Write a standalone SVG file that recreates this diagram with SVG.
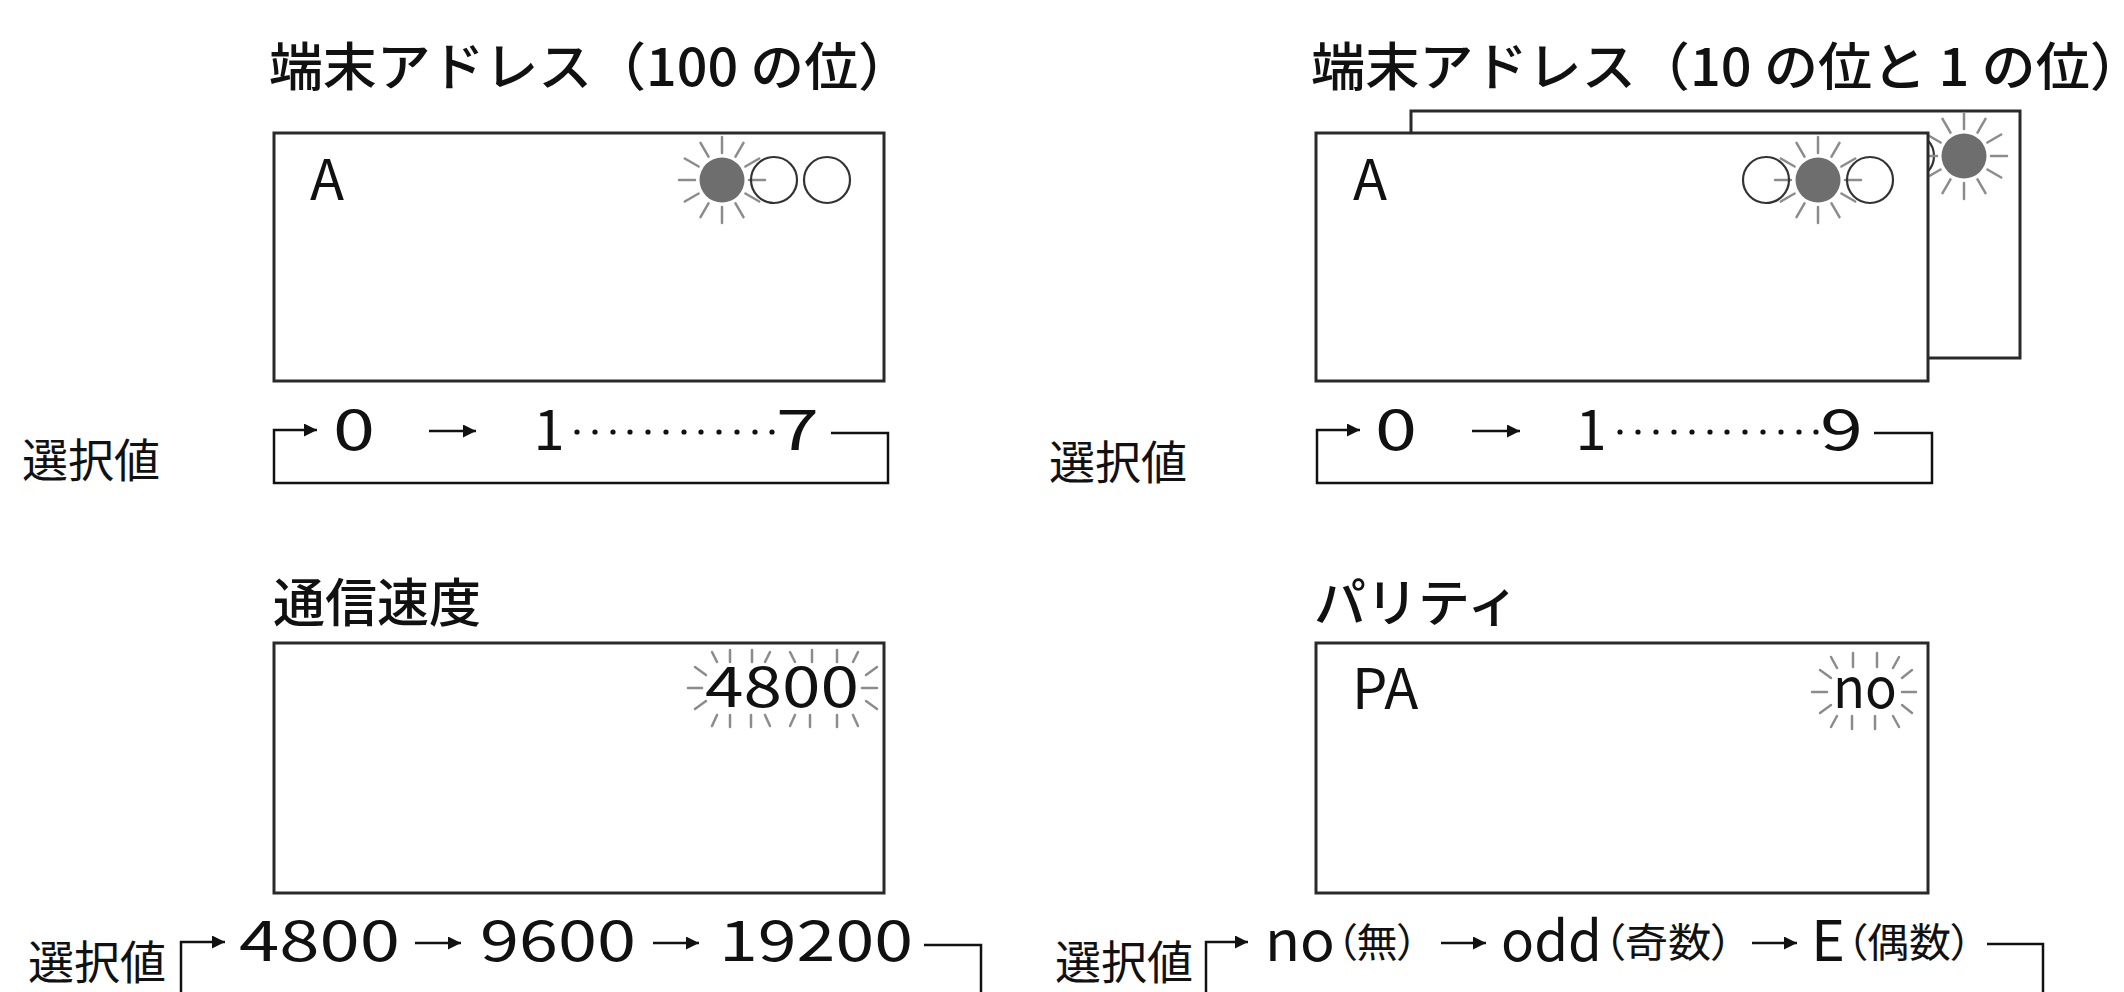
<svg xmlns="http://www.w3.org/2000/svg" width="2124" height="992" viewBox="0 0 2124 992">
<style>
.title{font-family:"Noto Sans CJK JP","Noto Sans",sans-serif;font-size:52px;font-weight:500;fill:#111}
.lab{font-family:"Noto Sans CJK JP","Noto Sans",sans-serif;font-size:56px;fill:#111}
.sel{font-family:"Noto Sans CJK JP","Noto Sans",sans-serif;font-size:46px;fill:#111}
.par{font-size:40px;font-feature-settings:"palt" 1}
.box{fill:#fff;stroke:#2a2a2a;stroke-width:3}
.led{fill:#6e6e6e}
.off{fill:none;stroke:#333;stroke-width:2.2}
.ray{stroke:#8c8c8c;stroke-width:2.5;stroke-linecap:round}
.ln{fill:none;stroke:#111;stroke-width:2.5}
.dot{fill:#111}
</style>
<defs>
<marker id="ah" markerUnits="userSpaceOnUse" viewBox="0 0 12 12" refX="12" refY="6" markerWidth="13" markerHeight="13" orient="auto">
<path d="M0,0 L12,6 L0,12 z" fill="#111"/>
</marker>
<g id="burst">
<line class="ray" x1="0" y1="-27" x2="0" y2="-43"/>
<line class="ray" x1="0" y1="-27" x2="0" y2="-43" transform="rotate(30)"/>
<line class="ray" x1="0" y1="-27" x2="0" y2="-43" transform="rotate(60)"/>
<line class="ray" x1="0" y1="-27" x2="0" y2="-43" transform="rotate(90)"/>
<line class="ray" x1="0" y1="-27" x2="0" y2="-43" transform="rotate(120)"/>
<line class="ray" x1="0" y1="-27" x2="0" y2="-43" transform="rotate(150)"/>
<line class="ray" x1="0" y1="-27" x2="0" y2="-43" transform="rotate(180)"/>
<line class="ray" x1="0" y1="-27" x2="0" y2="-43" transform="rotate(210)"/>
<line class="ray" x1="0" y1="-27" x2="0" y2="-43" transform="rotate(240)"/>
<line class="ray" x1="0" y1="-27" x2="0" y2="-43" transform="rotate(270)"/>
<line class="ray" x1="0" y1="-27" x2="0" y2="-43" transform="rotate(300)"/>
<line class="ray" x1="0" y1="-27" x2="0" y2="-43" transform="rotate(330)"/>
</g>
</defs>
<rect width="2124" height="992" fill="#fff"/>

<!-- Panel: address hundreds -->
<g id="addr100">
<text class="title" x="269" y="86" textLength="643" lengthAdjust="spacingAndGlyphs">端末アドレス（100 の位）</text>
<rect class="box" x="274" y="133" width="610" height="248"/>
<text class="lab" x="310" y="200">A</text>
<use href="#burst" x="722" y="180"/>
<circle class="led" cx="722" cy="180" r="22.5"/>
<circle class="off" cx="774" cy="180" r="23"/>
<circle class="off" cx="827" cy="180" r="23"/>
</g>

<!-- Panel: address tens/ones -->
<g id="addr10">
<text class="title" x="1311" y="86" textLength="833" lengthAdjust="spacingAndGlyphs">端末アドレス（10 の位と 1 の位）</text>
<rect class="box" x="1411" y="111" width="609" height="247"/>
<circle class="off" cx="1858" cy="156" r="23"/>
<circle class="off" cx="1911" cy="156" r="23"/>
<use href="#burst" x="1964" y="156"/>
<circle class="led" cx="1964" cy="156" r="22.5"/>
<rect class="box" x="1316" y="133" width="612" height="248"/>
<text class="lab" x="1353" y="200">A</text>
<use href="#burst" x="1818" y="180"/>
<circle class="led" cx="1818" cy="180" r="22.5"/>
<circle class="off" cx="1766" cy="180" r="23"/>
<circle class="off" cx="1870" cy="180" r="23"/>
</g>

<!-- Panel: baud rate -->
<g id="baud">
<text class="title" x="273" y="622">通信速度</text>
<rect class="box" x="274" y="643" width="610" height="250"/>
<g>
<line class="ray" x1="712" y1="652" x2="717" y2="662"/>
<line class="ray" x1="730" y1="650" x2="730" y2="662"/>
<line class="ray" x1="752" y1="650" x2="752" y2="662"/>
<line class="ray" x1="770" y1="652" x2="765" y2="662"/>
<line class="ray" x1="790" y1="652" x2="795" y2="662"/>
<line class="ray" x1="812" y1="650" x2="812" y2="662"/>
<line class="ray" x1="837" y1="650" x2="837" y2="662"/>
<line class="ray" x1="858" y1="652" x2="853" y2="662"/>
<line class="ray" x1="712" y1="726" x2="717" y2="715"/>
<line class="ray" x1="730" y1="715" x2="730" y2="727"/>
<line class="ray" x1="751" y1="715" x2="751" y2="727"/>
<line class="ray" x1="765" y1="715" x2="770" y2="726"/>
<line class="ray" x1="795" y1="715" x2="790" y2="726"/>
<line class="ray" x1="810" y1="715" x2="810" y2="727"/>
<line class="ray" x1="837" y1="715" x2="837" y2="727"/>
<line class="ray" x1="853" y1="715" x2="858" y2="726"/>
<line class="ray" x1="695" y1="667" x2="706" y2="675"/>
<line class="ray" x1="688" y1="688" x2="702" y2="688"/>
<line class="ray" x1="695" y1="709" x2="706" y2="701"/>
<line class="ray" x1="877" y1="667" x2="866" y2="675"/>
<line class="ray" x1="862" y1="688" x2="877" y2="688"/>
<line class="ray" x1="877" y1="709" x2="866" y2="701"/>
</g>
<text class="lab" x="705" y="707" textLength="154" lengthAdjust="spacingAndGlyphs">4800</text>
</g>

<!-- Panel: parity -->
<g id="parity">
<text class="title" x="1314" y="622">パリティ</text>
<rect class="box" x="1316" y="643" width="612" height="250"/>
<text class="lab" x="1352" y="709" font-size="58">PA</text>
<g>
<line class="ray" x1="1831" y1="657" x2="1837" y2="668"/>
<line class="ray" x1="1853" y1="653" x2="1853" y2="667"/>
<line class="ray" x1="1877" y1="653" x2="1877" y2="667"/>
<line class="ray" x1="1899" y1="657" x2="1893" y2="668"/>
<line class="ray" x1="1820" y1="670" x2="1831" y2="678"/>
<line class="ray" x1="1812" y1="692" x2="1827" y2="692"/>
<line class="ray" x1="1820" y1="713" x2="1831" y2="705"/>
<line class="ray" x1="1831" y1="727" x2="1837" y2="716"/>
<line class="ray" x1="1852" y1="716" x2="1852" y2="729"/>
<line class="ray" x1="1875" y1="716" x2="1875" y2="729"/>
<line class="ray" x1="1899" y1="727" x2="1893" y2="716"/>
<line class="ray" x1="1912" y1="670" x2="1902" y2="678"/>
<line class="ray" x1="1902" y1="692" x2="1916" y2="692"/>
<line class="ray" x1="1912" y1="713" x2="1902" y2="705"/>
</g>
<text class="lab" x="1833" y="708" textLength="64" lengthAdjust="spacingAndGlyphs">no</text>
</g>

<!-- Selection value rows -->
<g id="sel100">
<text class="sel" x="22" y="477">選択値</text>
<text class="lab" x="333" y="450" textLength="42" lengthAdjust="spacingAndGlyphs">0</text>
<text class="lab" x="549" y="450" text-anchor="middle">1</text>
<g class="dot">
<circle cx="577" cy="432" r="2.6"/><circle cx="595" cy="432" r="2.6"/><circle cx="613" cy="432" r="2.6"/><circle cx="630" cy="432" r="2.6"/><circle cx="648" cy="432" r="2.6"/><circle cx="666" cy="432" r="2.6"/><circle cx="684" cy="432" r="2.6"/><circle cx="701" cy="432" r="2.6"/><circle cx="719" cy="432" r="2.6"/><circle cx="737" cy="432" r="2.6"/><circle cx="755" cy="432" r="2.6"/><circle cx="772" cy="432" r="2.6"/>
</g>
<text class="lab" x="776" y="450" textLength="43" lengthAdjust="spacingAndGlyphs">7</text>
</g>

<g id="sel10">
<text class="sel" x="1049" y="479">選択値</text>
<text class="lab" x="1375" y="450" textLength="42" lengthAdjust="spacingAndGlyphs">0</text>
<text class="lab" x="1591" y="450" text-anchor="middle">1</text>
<g class="dot">
<circle cx="1620" cy="432" r="2.6"/><circle cx="1638" cy="432" r="2.6"/><circle cx="1656" cy="432" r="2.6"/><circle cx="1674" cy="432" r="2.6"/><circle cx="1692" cy="432" r="2.6"/><circle cx="1710" cy="432" r="2.6"/><circle cx="1727" cy="432" r="2.6"/><circle cx="1745" cy="432" r="2.6"/><circle cx="1763" cy="432" r="2.6"/><circle cx="1781" cy="432" r="2.6"/><circle cx="1799" cy="432" r="2.6"/><circle cx="1816" cy="432" r="2.6"/>
</g>
<text class="lab" x="1820" y="450" textLength="43" lengthAdjust="spacingAndGlyphs">9</text>
</g>

<g id="selbaud">
<text class="sel" x="28" y="979">選択値</text>
<text class="lab" x="239" y="961" textLength="161" lengthAdjust="spacingAndGlyphs">4800</text>
<text class="lab" x="480" y="961" textLength="156" lengthAdjust="spacingAndGlyphs">9600</text>
<text class="lab" x="719" y="961" textLength="194" lengthAdjust="spacingAndGlyphs">19200</text>
</g>

<g id="selparity">
<text class="sel" x="1055" y="979">選択値</text>
<text class="lab" y="961"><tspan x="1265" textLength="70" lengthAdjust="spacingAndGlyphs">no</tspan><tspan class="par" x="1336" y="957" textLength="82" lengthAdjust="spacingAndGlyphs">（無）</tspan></text>
<text class="lab" y="961"><tspan x="1501" textLength="101" lengthAdjust="spacingAndGlyphs">odd</tspan><tspan class="par" x="1603" y="957" textLength="130" lengthAdjust="spacingAndGlyphs">（奇数）</tspan></text>
<text class="lab" y="961"><tspan x="1811" textLength="34" lengthAdjust="spacingAndGlyphs">E</tspan><tspan class="par" x="1846" y="957" textLength="126" lengthAdjust="spacingAndGlyphs">（偶数）</tspan></text>
</g>

<!-- Connectors -->
<g id="connectors">
<path class="ln" d="M831 433 H888 V483 H274 V430 H317" marker-end="url(#ah)"/>
<path class="ln" d="M429 431 H476" marker-end="url(#ah)"/>
<path class="ln" d="M1874 433 H1932 V483 H1317 V430 H1360" marker-end="url(#ah)"/>
<path class="ln" d="M1472 431 H1520" marker-end="url(#ah)"/>
<path class="ln" d="M924 945 H981 V995 H181 V942 H225" marker-end="url(#ah)"/>
<path class="ln" d="M415 943 H461" marker-end="url(#ah)"/>
<path class="ln" d="M653 943 H699" marker-end="url(#ah)"/>
<path class="ln" d="M1987 944 H2043 V995 H1206 V942 H1248" marker-end="url(#ah)"/>
<path class="ln" d="M1441 943 H1486" marker-end="url(#ah)"/>
<path class="ln" d="M1752 943 H1797" marker-end="url(#ah)"/>
</g>
</svg>
